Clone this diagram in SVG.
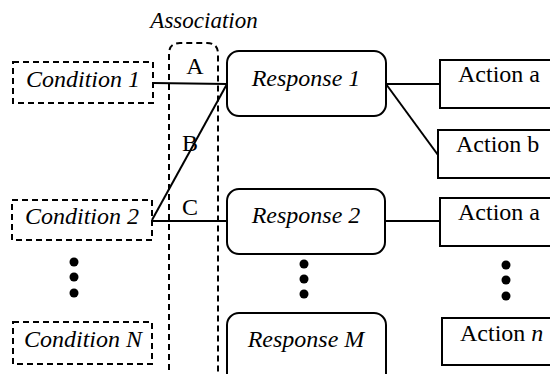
<svg xmlns="http://www.w3.org/2000/svg" width="550" height="374" viewBox="0 0 550 374">
<style>
.dash{fill:none;stroke:#000;stroke-width:2;stroke-dasharray:6 4}
.box{fill:#fff;stroke:#000;stroke-width:2}
.ln{fill:none;stroke:#000;stroke-width:2}
</style>
<rect width="550" height="374" fill="#fff"/>
<g id="association">
<path class="dash" d="M169,380 V54 Q169,43 180,43 H207 Q218,43 218,54 V380"/>
</g>
<g id="connectors">
<line class="ln" x1="153" y1="83" x2="227" y2="84"/>
<line class="ln" x1="227" y1="84" x2="152" y2="220"/>
<line class="ln" x1="152" y1="221" x2="227" y2="221"/>
<line class="ln" x1="386" y1="84" x2="440" y2="84"/>
<line class="ln" x1="386" y1="84" x2="438" y2="155"/>
<line class="ln" x1="385" y1="221" x2="440" y2="221"/>
</g>
<g id="condition1"><rect class="dash" x="13" y="62" width="140" height="41"/></g>
<g id="condition2"><rect class="dash" x="12" y="200" width="140" height="40"/></g>
<g id="conditionN"><rect class="dash" x="13" y="322" width="139" height="42"/></g>
<g id="dots-conditions">
<circle cx="74" cy="262" r="4.5"/><circle cx="74" cy="277" r="4.5"/><circle cx="74" cy="293" r="4.5"/>
</g>
<g id="response1"><rect class="box" x="227" y="51" width="159" height="65" rx="12"/></g>
<g id="response2"><rect class="box" x="227" y="189" width="158" height="65" rx="12"/></g>
<g id="dots-responses">
<circle cx="304" cy="264" r="4.5"/><circle cx="304" cy="279" r="4.5"/><circle cx="304" cy="294" r="4.5"/>
</g>
<g id="responseM"><rect class="box" x="227" y="313" width="159" height="80" rx="12"/></g>
<g id="action-a1"><rect class="box" x="440" y="60" width="130" height="48"/></g>
<g id="action-b"><rect class="box" x="438" y="130" width="130" height="48"/></g>
<g id="action-a2"><rect class="box" x="440" y="198" width="130" height="48"/></g>
<g id="dots-actions">
<circle cx="506" cy="265" r="4.5"/><circle cx="506" cy="280" r="4.5"/><circle cx="506" cy="296" r="4.5"/>
</g>
<g id="action-n"><rect class="box" x="442" y="318" width="130" height="47"/></g>
<text x="204" y="28" text-anchor="middle" font-family="Liberation Serif" font-size="23" font-style="italic">Association</text>
<text x="195" y="74" text-anchor="middle" font-family="Liberation Serif" font-size="24">A</text>
<text x="190" y="151" text-anchor="middle" font-family="Liberation Serif" font-size="24">B</text>
<text x="190" y="215" text-anchor="middle" font-family="Liberation Serif" font-size="24">C</text>
<text x="83" y="87" text-anchor="middle" font-family="Liberation Serif" font-size="24" font-style="italic">Condition 1</text>
<text x="82" y="224" text-anchor="middle" font-family="Liberation Serif" font-size="24" font-style="italic">Condition 2</text>
<text x="83" y="347" text-anchor="middle" font-family="Liberation Serif" font-size="24" font-style="italic">Condition N</text>
<text x="306" y="86" text-anchor="middle" font-family="Liberation Serif" font-size="24" font-style="italic">Response 1</text>
<text x="306" y="223" text-anchor="middle" font-family="Liberation Serif" font-size="24" font-style="italic">Response 2</text>
<text x="306" y="347" text-anchor="middle" font-family="Liberation Serif" font-size="24" font-style="italic">Response M</text>
<text x="458" y="82" font-family="Liberation Serif" font-size="24">Action a</text>
<text x="456" y="152" font-family="Liberation Serif" font-size="24">Action b</text>
<text x="458" y="220" font-family="Liberation Serif" font-size="24">Action a</text>
<text x="460" y="341" font-family="Liberation Serif" font-size="24">Action <tspan font-style="italic">n</tspan></text>
</svg>
